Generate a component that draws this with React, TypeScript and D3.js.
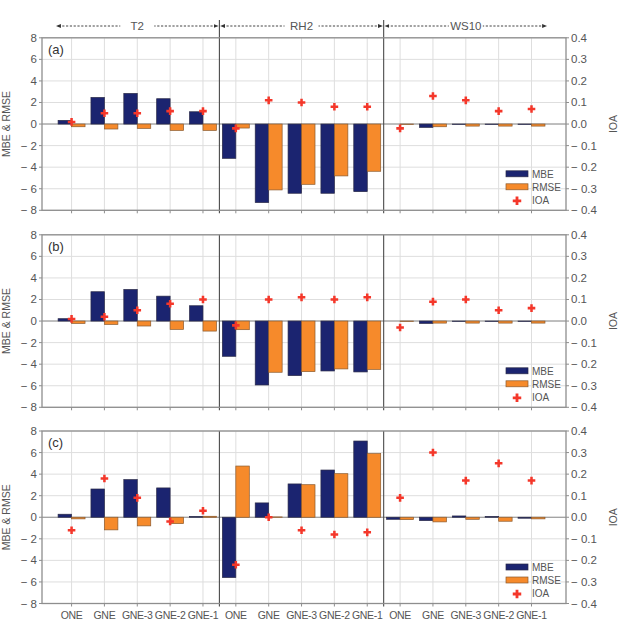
import React from "react";
import * as d3 from "d3";

// experiment names repeated under each variable block
const runs = ["ONE", "GNE", "GNE-3", "GNE-2", "GNE-1"];
const variables = ["T2", "RH2", "WS10"];
const panelLabels = ["(a)", "(b)", "(c)"];

// values per panel, ordered T2 (5 runs), RH2 (5 runs), WS10 (5 runs)
const mbeA = [0.34, 2.47, 2.84, 2.35, 1.14, -3.18, -7.28, -6.42, -6.42, -6.27, 0.0, -0.31, -0.03, -0.03, -0.03];
const rmseA = [-0.25, -0.46, -0.4, -0.59, -0.59, -0.37, -6.11, -5.59, -4.81, -4.38, -0.03, -0.25, -0.19, -0.19, -0.19];
const ioaA = [0.01, 0.05, 0.05, 0.06, 0.06, -0.02, 0.11, 0.1, 0.08, 0.08, -0.02, 0.13, 0.11, 0.06, 0.07];

const mbeB = [0.22, 2.72, 2.93, 2.31, 1.42, -3.27, -5.93, -5.06, -4.63, -4.72, 0.0, -0.22, -0.03, -0.03, -0.03];
const rmseB = [-0.22, -0.31, -0.46, -0.77, -0.93, -0.8, -4.75, -4.69, -4.44, -4.48, -0.03, -0.19, -0.19, -0.19, -0.19];
const ioaB = [0.01, 0.02, 0.05, 0.08, 0.1, -0.02, 0.1, 0.11, 0.1, 0.11, -0.03, 0.09, 0.1, 0.05, 0.06];

const mbeC = [0.28, 2.62, 3.49, 2.72, 0.06, -5.59, 1.33, 3.09, 4.38, 7.07, -0.19, -0.31, 0.12, 0.06, -0.09];
const rmseC = [-0.15, -1.17, -0.8, -0.59, 0.09, 4.75, 0.03, 3.02, 4.04, 5.9, -0.22, -0.43, -0.19, -0.37, -0.15];
const ioaC = [-0.06, 0.18, 0.09, -0.02, 0.03, -0.22, 0.0, -0.06, -0.08, -0.07, 0.09, 0.3, 0.17, 0.25, 0.17];

const leftTicks = [-8, -6, -4, -2, 0, 2, 4, 6, 8];
const rightTicks = [-0.4, -0.3, -0.2, -0.1, 0.0, 0.1, 0.2, 0.3, 0.4];

const panelData = [
  { mbe: mbeA, rmse: rmseA, ioa: ioaA },
  { mbe: mbeB, rmse: rmseB, ioa: ioaB },
  { mbe: mbeC, rmse: rmseC, ioa: ioaC },
];

const W = 621;
const H = 624;
const plotLeft = 42;
const plotRight = 566;
const panelTops = [37.8, 234.8, 431];
const panelH = 172.5;

const NAVY = "#1b2470";
const ORANGE = "#f68a2b";
const RED = "#f4372a";
const FRAME = "#8e8e8e";
const GRID = "#dedede";
const TEXT = "#555";
const FONT = "'Liberation Sans', Arial, Helvetica, sans-serif";

const fmtMinus = (s: string) => (s.startsWith("-") ? "\u2212 " + s.slice(1) : s);

const App: React.FC = () => {
  const nCat = runs.length * variables.length;
  const x = d3.scaleLinear().domain([-0.9, nCat + 0.05]).range([plotLeft, plotRight]);
  const barW = x(0.41) - x(0);
  const cross = d3.symbol(d3.symbolCross, 32)() as string;
  const legendCross = d3.symbol(d3.symbolCross, 40)() as string;
  const idx = d3.range(nCat);

  return (
    <svg
      width={W}
      height={H}
      style={{ position: "absolute", left: 0, top: 0, background: "#fff" }}
      fontFamily={FONT}
    >
      <defs>
        <marker id="ah" viewBox="0 0 10 10" refX="5" refY="5" markerWidth="5" markerHeight="5" orient="auto-start-reverse">
          <path d="M0,1 L10,5 L0,9 Z" fill="#333" />
        </marker>
      </defs>

      {/* variable headers with dashed double arrows */}
      {variables.map((v, g) => {
        const c = g * runs.length + 2;
        const x1 = x(c - 2.4);
        const x2 = x(c + 2.4);
        const cx = (x1 + x2) / 2;
        return (
          <g key={v}>
            <line x1={x1} x2={x2} y1={26} y2={26} stroke="#444" strokeWidth={1} strokeDasharray="2.2,1.6"
              markerStart="url(#ah)" markerEnd="url(#ah)" />
            <rect x={cx - 17} y={19} width={34} height={14} fill="#fff" />
            <text x={cx} y={30} textAnchor="middle" fontSize={11.5} fill={TEXT}>{v}</text>
          </g>
        );
      })}

      {panelData.map((d, p) => {
        const top = panelTops[p];
        const bottom = top + panelH;
        const y = d3.scaleLinear().domain([-8, 8]).range([bottom, top]);
        const y2 = d3.scaleLinear().domain([-0.4, 0.4]).range([bottom, top]);
        const legX = plotRight - 60;
        const legY = top + 136;
        return (
          <g key={p}>
            {/* grid */}
            {leftTicks.map((t) => (
              <line key={"h" + t} x1={plotLeft} x2={plotRight} y1={y(t)} y2={y(t)} stroke={GRID} strokeWidth={1} />
            ))}
            {idx.map((i) => (
              <line key={"v" + i} x1={x(i)} x2={x(i)} y1={top} y2={bottom} stroke={GRID} strokeWidth={1} />
            ))}
            <line x1={plotLeft} x2={plotRight} y1={y(0)} y2={y(0)} stroke={FRAME} strokeWidth={1.1} />

            {/* bars */}
            {idx.map((i) => (
              <g key={"b" + i}>
                <rect x={x(i) - barW} width={barW}
                  y={Math.min(y(d.mbe[i]), y(0))} height={Math.abs(y(d.mbe[i]) - y(0))}
                  fill={NAVY} stroke="#2a2a48" strokeWidth={0.7} />
                <rect x={x(i)} width={barW}
                  y={Math.min(y(d.rmse[i]), y(0))} height={Math.abs(y(d.rmse[i]) - y(0))}
                  fill={ORANGE} stroke="#8a5a2e" strokeWidth={0.7} />
              </g>
            ))}

            {/* IOA markers */}
            {idx.map((i) => (
              <path key={"c" + i} d={cross} transform={`translate(${x(i)},${y2(d.ioa[i])})`} fill={RED} />
            ))}

            {/* block dividers */}
            {[1, 2].map((g) => {
              const dx = x(g * runs.length - 0.5);
              return (
                <line key={"d" + g} x1={dx} x2={dx} y1={p === 0 ? 20 : top} y2={bottom + 3} stroke="#4a4a4a" strokeWidth={1.1} />
              );
            })}

            {/* frame */}
            <rect x={plotLeft} y={top} width={plotRight - plotLeft} height={panelH} fill="none" stroke={FRAME} strokeWidth={1.3} />

            {/* left axis */}
            {leftTicks.map((t) => (
              <g key={"lt" + t}>
                <line x1={plotLeft - 3} x2={plotLeft} y1={y(t)} y2={y(t)} stroke={FRAME} strokeWidth={1} />
                <text x={plotLeft - 5} y={y(t) + 4} textAnchor="end" fontSize={11.5} fill={TEXT}>{fmtMinus(String(t))}</text>
              </g>
            ))}
            {/* right axis */}
            {rightTicks.map((t) => (
              <g key={"rt" + t}>
                <line x1={plotRight} x2={plotRight + 3} y1={y2(t)} y2={y2(t)} stroke={FRAME} strokeWidth={1} />
                <text x={plotRight + 5} y={y2(t) + 4} textAnchor="start" fontSize={11.5} fill={TEXT}>{fmtMinus(t.toFixed(1))}</text>
              </g>
            ))}
            {/* bottom ticks */}
            {idx.map((i) => (
              <line key={"bt" + i} x1={x(i)} x2={x(i)} y1={bottom} y2={bottom + 3} stroke={FRAME} strokeWidth={1} />
            ))}

            <text x={plotLeft + 6} y={top + 16} fontSize={13} fill="#333">{panelLabels[p]}</text>

            <text transform={`translate(10,${y(0)}) rotate(-90)`} textAnchor="middle" fontSize={10.5} fill={TEXT}>MBE &amp; RMSE</text>
            <text transform={`translate(617,${y(0)}) rotate(-90)`} textAnchor="middle" fontSize={10.5} fill={TEXT}>IOA</text>

            {/* legend */}
            <rect x={legX} y={legY - 3} width={22} height={6} fill={NAVY} stroke="#2a2a48" strokeWidth={0.7} />
            <text x={legX + 26} y={legY + 4} fontSize={10} fill={TEXT}>MBE</text>
            <rect x={legX} y={legY + 10} width={22} height={6} fill={ORANGE} stroke="#8a5a2e" strokeWidth={0.7} />
            <text x={legX + 26} y={legY + 17} fontSize={10} fill={TEXT}>RMSE</text>
            <path d={legendCross} transform={`translate(${legX + 11},${legY + 27})`} fill={RED} />
            <text x={legX + 26} y={legY + 30} fontSize={10} fill={TEXT}>IOA</text>

            {p === panelData.length - 1 &&
              idx.map((i) => (
                <text key={"xl" + i} x={x(i)} y={bottom + 15} textAnchor="middle" fontSize={10.5}
                  letterSpacing={-0.3} fill={TEXT}>
                  {runs[i % runs.length]}
                </text>
              ))}
          </g>
        );
      })}
    </svg>
  );
};

export default App;
